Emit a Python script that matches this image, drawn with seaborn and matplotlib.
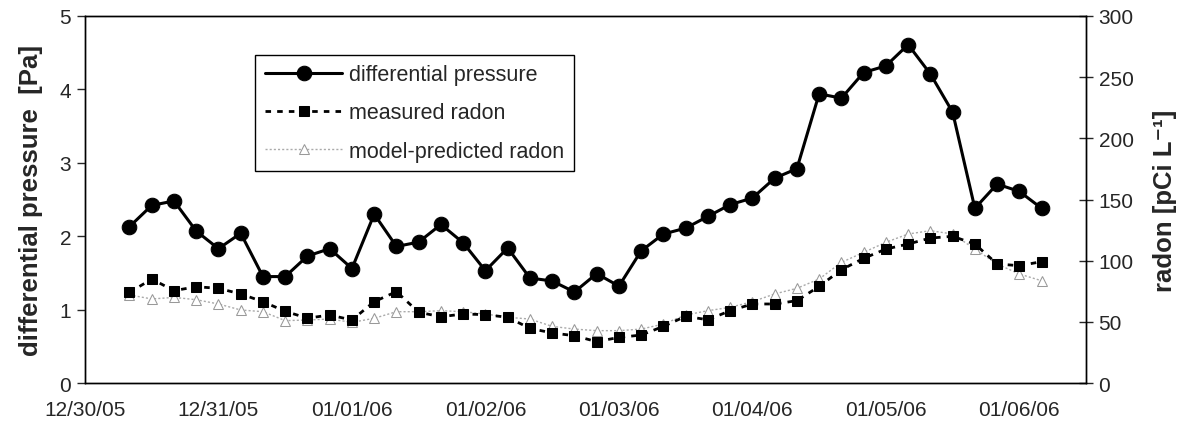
import matplotlib
matplotlib.use("Agg")
import matplotlib.pyplot as plt
import matplotlib.dates as mdates
import seaborn as sns
import pandas as pd
import numpy as np

# sampling times (every 4 h starting 12/30/05 08:00)
times = pd.date_range("2005-12-30 08:00", periods=42, freq="4h")

diff_pressure = [2.13, 2.42, 2.48, 2.07, 1.83, 2.04, 1.45, 1.45, 1.73, 1.83,
                 1.56, 2.30, 1.86, 1.92, 2.16, 1.91, 1.53, 1.84, 1.43, 1.39,
                 1.24, 1.49, 1.32, 1.80, 2.03, 2.11, 2.27, 2.43, 2.52, 2.79,
                 2.92, 3.94, 3.88, 4.23, 4.32, 4.61, 4.21, 3.69, 2.38, 2.71,
                 2.61, 2.38]

measured_radon = [74, 85, 75.5, 78.7, 77.4, 72.8, 66.5, 58.6, 53, 55.6,
                  51.5, 66.5, 74.7, 57.8, 54.2, 56.4, 55.9, 53.7, 44.7, 40.9,
                  38.7, 33.8, 37.3, 39.2, 46.3, 54.5, 51.7, 59.1, 64.6, 64.6,
                  67.3, 79, 92.6, 101.9, 109.5, 113.6, 118.5, 119.9, 113.6, 97.3,
                  95.9, 99.2]

model_radon = [72, 68.7, 70, 68.1, 64.6, 59.7, 58.3, 51, 51.5, 52.3,
               49.6, 52.9, 58.3, 58.3, 59.1, 58.3, 56.4, 53.7, 52.3, 46.3,
               44.1, 42.8, 42.8, 44.1, 48.2, 55.6, 59.1, 61.9, 66.5, 72.8,
               77.4, 85, 98.6, 106.8, 115, 121.8, 124.5, 121.8, 109.5, 97.3,
               89.1, 83.6]

df = pd.DataFrame({"time": times, "dp": diff_pressure,
                   "meas": measured_radon, "model": model_radon})

sns.set_style("white")
plt.rcParams["font.family"] = ["Liberation Sans", "DejaVu Sans"]

fig = plt.figure(figsize=(11.87, 4.31), dpi=100)
ax = fig.add_axes([0.0716, 0.109, 0.8434, 0.8516])
ax2 = ax.twinx()

sns.lineplot(data=df, x="time", y="dp", ax=ax, color="black", lw=2.2,
             marker="o", markersize=10.5, markeredgecolor="black",
             label="differential pressure", legend=False, zorder=5)
sns.lineplot(data=df, x="time", y="model", ax=ax2, color="#aaaaaa", lw=1.0,
             linestyle=(0, (1.5, 1.5)), marker="^", markersize=7,
             markerfacecolor="white", markeredgecolor="#999999",
             label="model-predicted radon", legend=False, zorder=3)
sns.lineplot(data=df, x="time", y="meas", ax=ax2, color="black", lw=2.0,
             linestyle=(0, (2, 2.2)), marker="s", markersize=6.5,
             markeredgecolor="black",
             label="measured radon", legend=False, zorder=4)

ax.set_zorder(ax2.get_zorder() + 1)
ax.patch.set_visible(False)

ax.set_xlim(pd.Timestamp("2005-12-30 00:00"), pd.Timestamp("2006-01-06 12:00"))
ax.set_ylim(0, 5)
ax2.set_ylim(0, 300)
ax.set_yticks([0, 1, 2, 3, 4, 5])
ax2.set_yticks([0, 50, 100, 150, 200, 250, 300])
ax.xaxis.set_major_locator(mdates.DayLocator())
ax.xaxis.set_major_formatter(mdates.DateFormatter("%m/%d/%y"))

for a in (ax, ax2):
    for s in a.spines.values():
        s.set_color("black")
        s.set_linewidth(1.0)

ax.tick_params(axis="x", direction="out", length=6, width=1, labelsize=15, pad=6)
ax.tick_params(axis="y", direction="out", length=6, width=1, labelsize=15, pad=4)
ax2.tick_params(axis="y", direction="inout", length=10, width=1, labelsize=15, pad=4)

ax.set_xlabel("")
ax.set_ylabel("differential pressure  [Pa]", fontsize=18.5, fontweight="bold", labelpad=12)
ax2.set_ylabel("radon [pCi L\u207b\u00b9]", fontsize=18.5, fontweight="bold", labelpad=14)

h1, l1 = ax.get_legend_handles_labels()
h2, l2 = ax2.get_legend_handles_labels()
order = [h1[0], h2[1], h2[0]]
labels = [l1[0], l2[1], l2[0]]
leg = ax.legend(order, labels, loc="upper left", bbox_to_anchor=(0.17, 0.895),
                fontsize=15.5, frameon=True, fancybox=False, framealpha=1,
                edgecolor="black", handlelength=3.6, borderpad=0.45,
                labelspacing=0.8, handletextpad=0.3, borderaxespad=0)
leg.get_frame().set_linewidth(1.0)

fig.savefig("out.png", dpi=100)
